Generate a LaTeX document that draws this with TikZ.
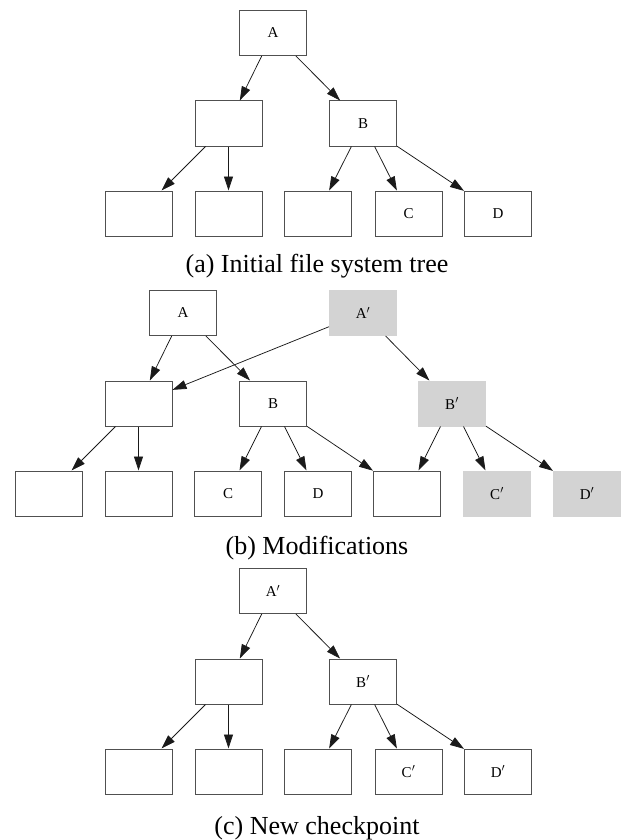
\documentclass[tikz,border=0pt]{standalone}
\usepackage{fontspec}
\setmainfont{Liberation Serif}
\usetikzlibrary{arrows.meta}
\definecolor{boxline}{HTML}{505050}
\definecolor{modfill}{HTML}{D3D3D3}
\definecolor{edgecol}{HTML}{1A1A1A}
\tikzset{
  fsbox/.style={draw=boxline, line width=1pt, fill=white, minimum width=67pt, minimum height=45pt, inner sep=0pt, font=\fontsize{15}{17}\selectfont},
  modbox/.style={fsbox, draw=modfill, fill=modfill},
  edge/.style={draw=edgecol, line width=0.75pt, -{Triangle[length=14pt,width=9pt]}},
  captiontext/.style={anchor=base, inner sep=0pt, font=\fontsize{26}{30}\selectfont}
}
\begin{document}
\begin{tikzpicture}[x=1pt,y=-1pt]
\useasboundingbox (0,0) rectangle (621,840);
% ---------- panel (a) ----------
\node[fsbox] (aA) at (273,33) {A};
\node[fsbox] (aL) at (228.5,123.5) {};
\node[fsbox] (aB) at (363,123.5) {B};
\node[fsbox] (a1) at (138.5,213.5) {};
\node[fsbox] (a2) at (228.5,213.5) {};
\node[fsbox] (a3) at (317.5,213.5) {};
\node[fsbox] (aC) at (408.5,213.5) {C};
\node[fsbox] (aD) at (498,213.5) {D};
\draw[edge] (aA) -- (aL);
\draw[edge] (aA) -- (aB);
\draw[edge] (aL) -- (a1);
\draw[edge] (aL) -- (a2);
\draw[edge] (aB) -- (a3);
\draw[edge] (aB) -- (aC);
\draw[edge] (aB) -- (aD);
\node[captiontext] (capa) at (317,272) {(a) Initial file system tree};
% ---------- panel (b) ----------
\node[fsbox] (bA) at (183,313) {A};
\node[modbox] (bAp) at (363,313) {A$'$};
\node[fsbox] (bL) at (138.5,403.5) {};
\node[fsbox] (bB) at (273,403.5) {B};
\node[modbox] (bBp) at (452,403.5) {B$'$};
\node[fsbox] (b1) at (48.5,493.5) {};
\node[fsbox] (b2) at (138.5,493.5) {};
\node[fsbox] (bC) at (228,493.5) {C};
\node[fsbox] (bD) at (318,493.5) {D};
\node[fsbox] (b3) at (407,493.5) {};
\node[modbox] (bCp) at (497,493.5) {C$'$};
\node[modbox] (bDp) at (587,493.5) {D$'$};
\draw[edge] (bA) -- (bL);
\draw[edge] (bA) -- (bB);
\draw[edge] (bAp) -- (bL);
\draw[edge] (bAp) -- (bBp);
\draw[edge] (bL) -- (b1);
\draw[edge] (bL) -- (b2);
\draw[edge] (bB) -- (bC);
\draw[edge] (bB) -- (bD);
\draw[edge] (bB) -- (b3);
\draw[edge] (bBp) -- (b3);
\draw[edge] (bBp) -- (bCp);
\draw[edge] (bBp) -- (bDp);
\node[captiontext] (capb) at (317,554) {(b) Modifications};
% ---------- panel (c) ----------
\node[fsbox] (cA) at (273,591) {A$'$};
\node[fsbox] (cL) at (228.5,681.5) {};
\node[fsbox] (cB) at (363,681.5) {B$'$};
\node[fsbox] (c1) at (138.5,771.5) {};
\node[fsbox] (c2) at (228.5,771.5) {};
\node[fsbox] (c3) at (317.5,771.5) {};
\node[fsbox] (cC) at (408.5,771.5) {C$'$};
\node[fsbox] (cD) at (498,771.5) {D$'$};
\draw[edge] (cA) -- (cL);
\draw[edge] (cA) -- (cB);
\draw[edge] (cL) -- (c1);
\draw[edge] (cL) -- (c2);
\draw[edge] (cB) -- (c3);
\draw[edge] (cB) -- (cC);
\draw[edge] (cB) -- (cD);
\node[captiontext] (capc) at (317,834) {(c) New checkpoint};
\end{tikzpicture}
\end{document}
